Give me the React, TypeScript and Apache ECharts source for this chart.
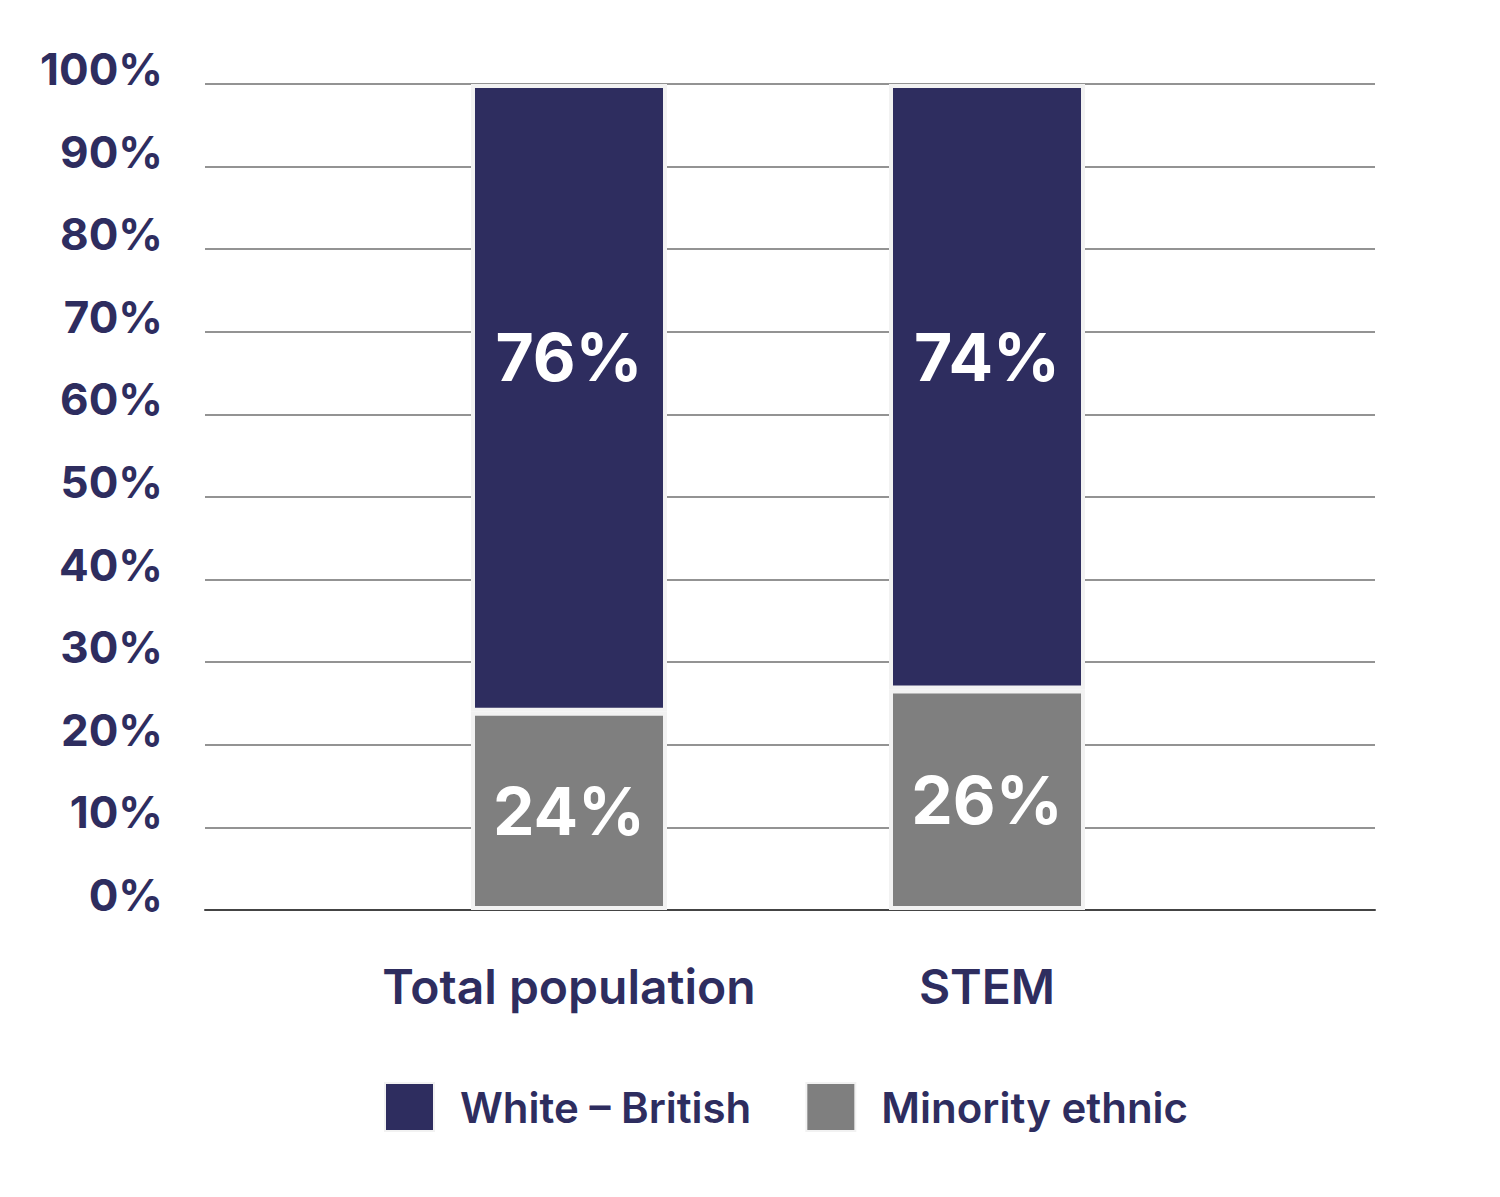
import { useEffect, useRef } from "react";
import * as echarts from "echarts";

const categories = ["Total population", "STEM"];
// bar heights (share of each group, in %)
const whiteBritish = [76, 73.3];
const minorityEthnic = [24, 26.7];
// printed labels on the bars
const whiteLabels = ["76%", "74%"];
const minorityLabels = ["24%", "26%"];
const yTicks = [0, 10, 20, 30, 40, 50, 60, 70, 80, 90, 100];

const NAVY = "#2e2d5f";
const GREY = "#7f7f7f";
const FONT = "Inter, 'Noto Sans', sans-serif";

export default function App() {
  const ref = useRef<HTMLDivElement>(null);

  useEffect(() => {
    document.body.style.margin = "0";
    if (!ref.current) return;
    const chart = echarts.init(ref.current, undefined, { renderer: "svg" });

    const barBase = {
      type: "bar" as const,
      stack: "total",
      xAxisIndex: 1,
      yAxisIndex: 1,
      barWidth: 196,
      itemStyle: { borderColor: "#f2f2f2", borderWidth: 4 },
    };

    chart.setOption({
      animation: false,
      backgroundColor: "#ffffff",
      textStyle: { fontFamily: FONT },
      grid: [
        { left: 205, right: 125, top: 84, bottom: 287 },
        { left: 360, right: 304, top: 84, bottom: 287 },
      ],
      legend: {
        left: 384,
        top: 1082,
        padding: 0,
        itemWidth: 49,
        itemHeight: 48,
        itemGap: 54,
        icon: "rect",
        data: ["White – British", "Minority ethnic"],
        textStyle: {
          color: NAVY,
          fontSize: 42,
          fontWeight: 600,
          fontFamily: FONT,
          padding: [0, 0, 0, 21],
        },
      },
      xAxis: [
        {
          type: "value",
          gridIndex: 0,
          min: 0,
          max: 1,
          axisLine: { show: true, lineStyle: { color: "#444444", width: 2 } },
          axisTick: { show: false },
          axisLabel: { show: false },
          splitLine: { show: false },
        },
        {
          type: "category",
          gridIndex: 1,
          data: categories,
          axisLine: { show: false },
          axisTick: { show: false },
          axisLabel: {
            interval: 0,
            color: NAVY,
            fontSize: 48,
            fontWeight: 600,
            fontFamily: FONT,
            margin: 52,
          },
        },
      ],
      yAxis: [
        {
          type: "value",
          gridIndex: 0,
          min: yTicks[0],
          max: yTicks[yTicks.length - 1],
          interval: 10,
          axisLine: { show: false },
          axisTick: { show: false },
          axisLabel: {
            color: NAVY,
            fontSize: 44,
            fontWeight: 700,
            fontFamily: FONT,
            margin: 42,
            verticalAlign: "bottom",
            lineHeight: 30,
            formatter: (v: number) => `${v}%`,
          },
          splitLine: { lineStyle: { color: "#6f6f6f", width: 1.5 } },
        },
        {
          type: "value",
          gridIndex: 1,
          min: 0,
          max: 100,
          show: false,
        },
      ],
      series: [
        {
          ...barBase,
          name: "Minority ethnic",
          data: minorityEthnic,
          itemStyle: { ...barBase.itemStyle, color: GREY },
          label: {
            show: true,
            position: "inside",
            color: "#ffffff",
            fontSize: 66,
            fontWeight: 700,
            fontFamily: FONT,
            formatter: (p: { dataIndex: number }) => minorityLabels[p.dataIndex],
          },
        },
        {
          ...barBase,
          name: "White – British",
          data: whiteBritish,
          itemStyle: { ...barBase.itemStyle, color: NAVY },
          label: {
            show: true,
            position: "insideTop",
            distance: 240,
            color: "#ffffff",
            fontSize: 66,
            fontWeight: 700,
            fontFamily: FONT,
            formatter: (p: { dataIndex: number }) => whiteLabels[p.dataIndex],
          },
        },
      ],
    });

    return () => chart.dispose();
  }, []);

  return <div ref={ref} style={{ width: 1500, height: 1197 }} />;
}
